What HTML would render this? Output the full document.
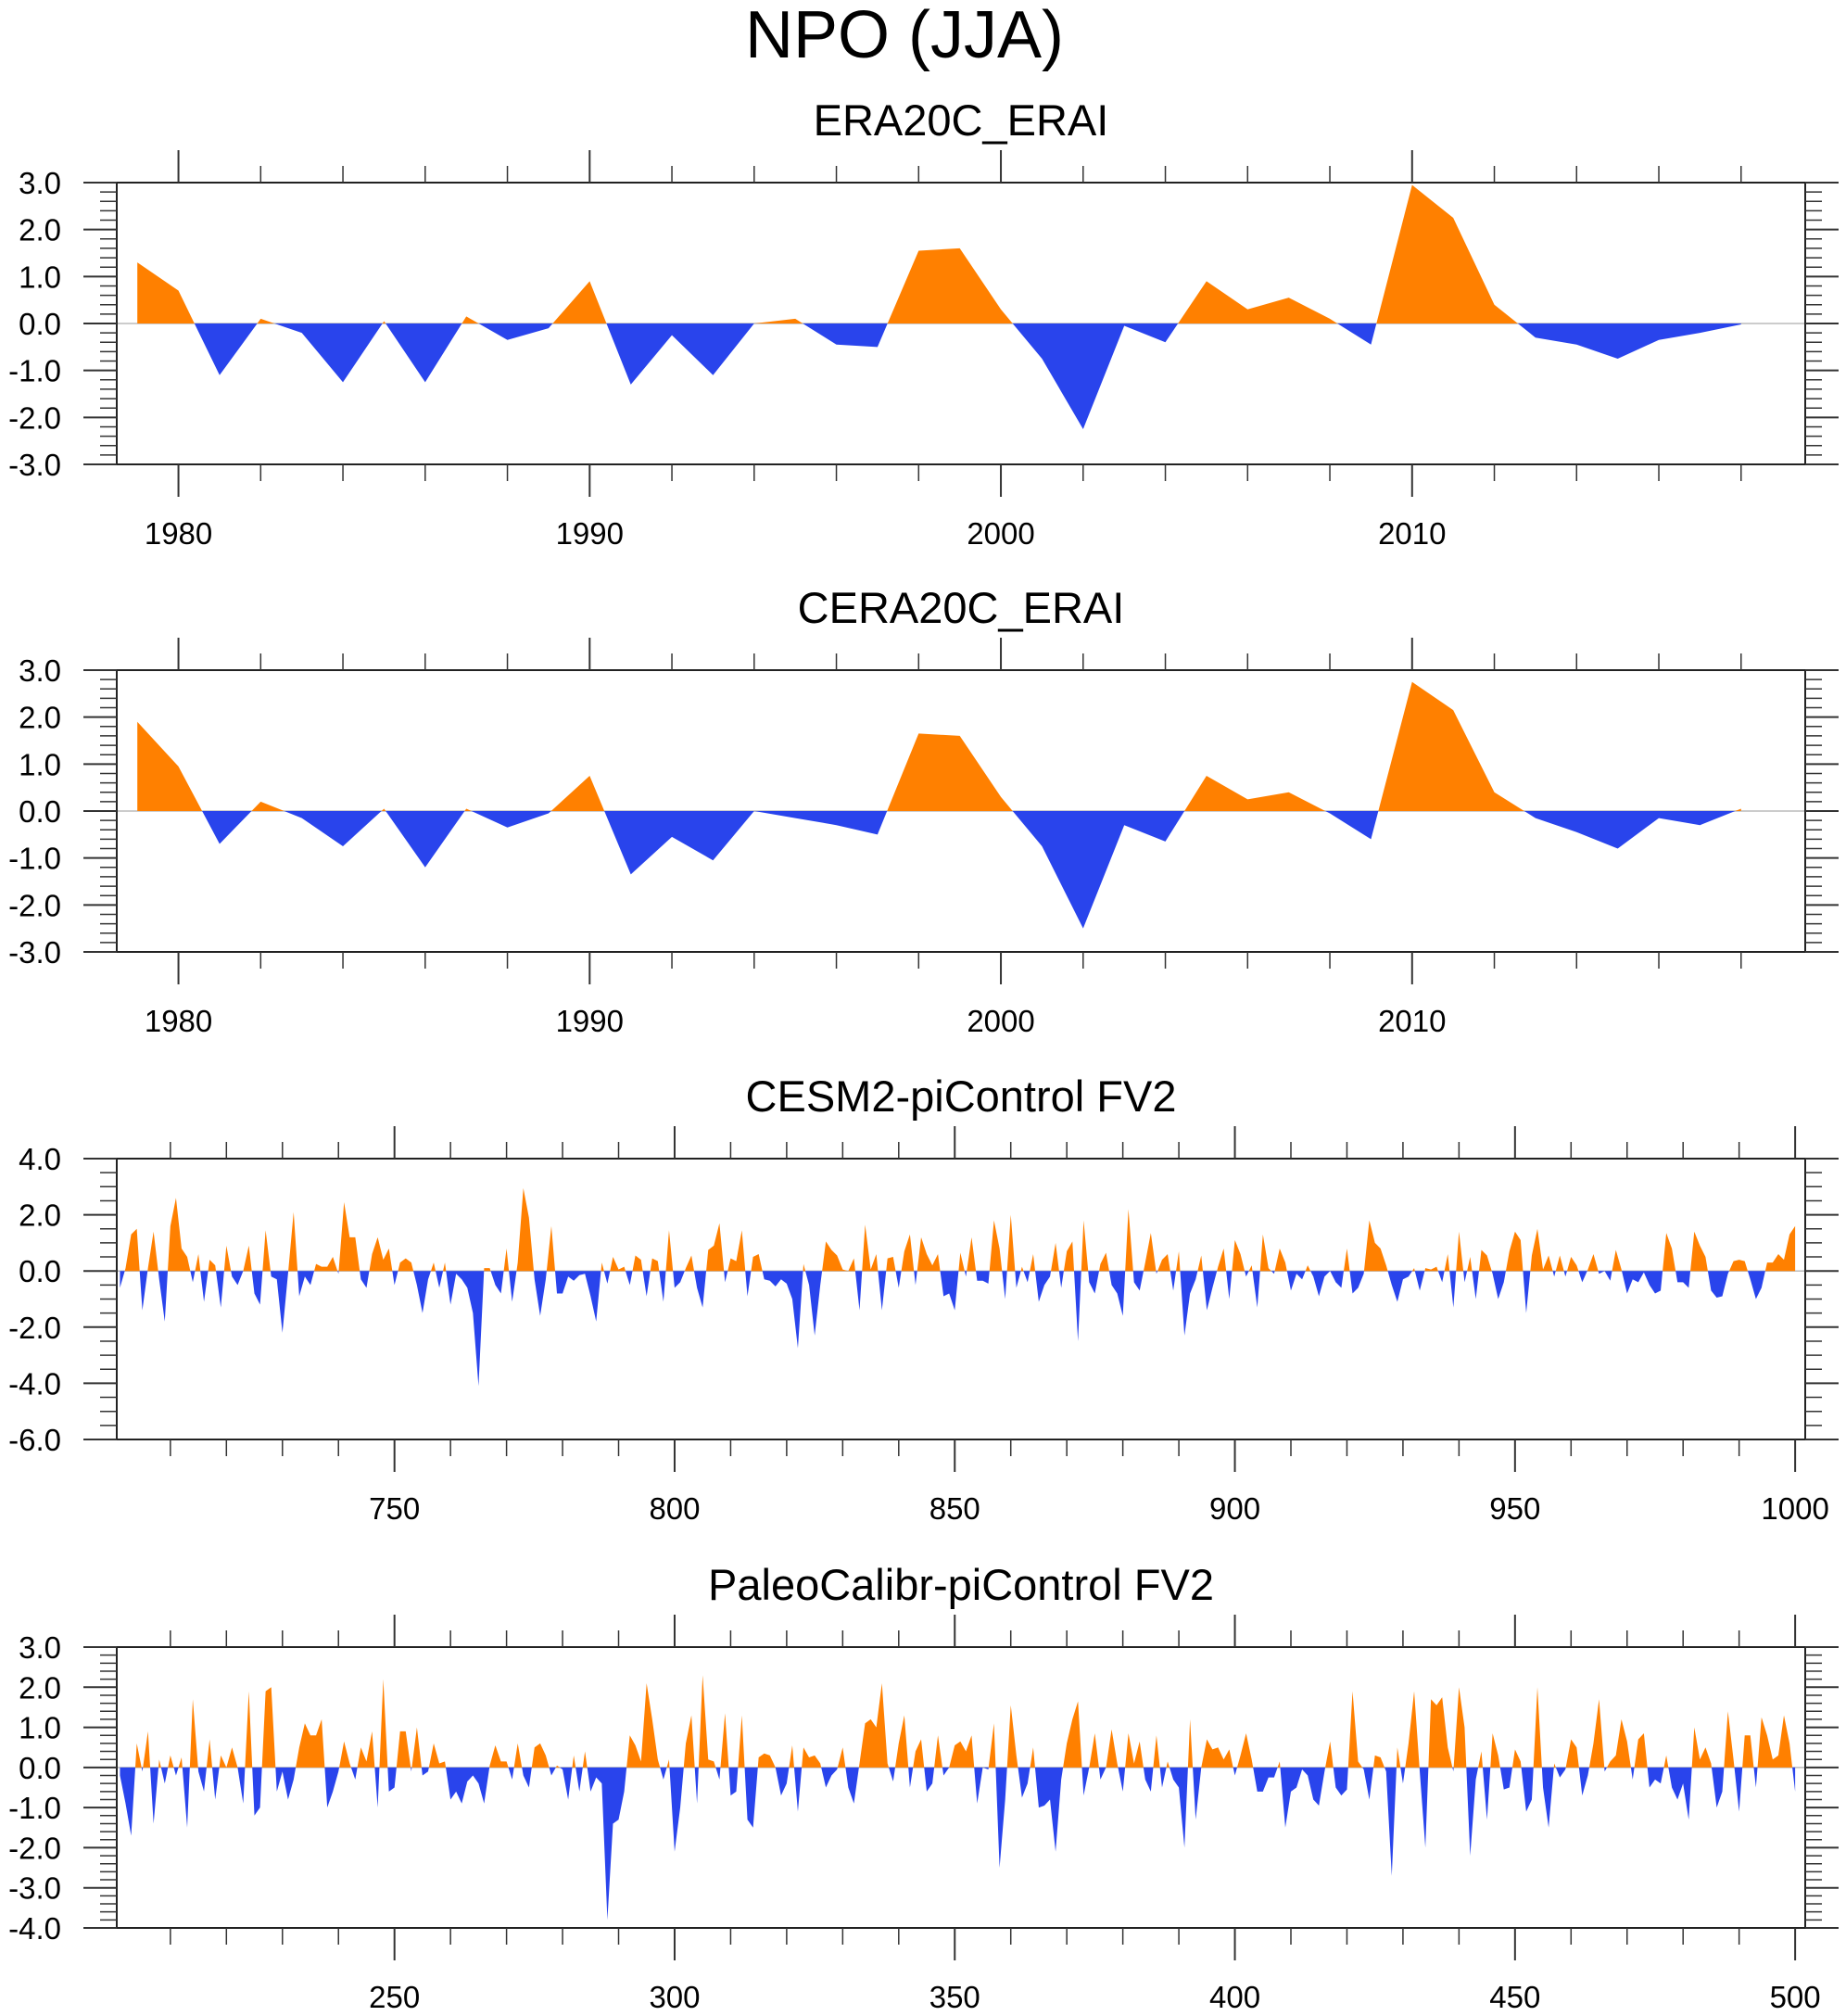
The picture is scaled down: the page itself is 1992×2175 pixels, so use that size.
<!DOCTYPE html>
<html><head><meta charset="utf-8"><style>
html,body{margin:0;padding:0;background:#fff;}
svg{display:block;font-family:"Liberation Sans",Arial,sans-serif;}
</style></head><body>
<svg id="chart" width="1992" height="2175" viewBox="0 0 1992 2175" xmlns="http://www.w3.org/2000/svg">
<text x="976" y="62" font-size="72" text-anchor="middle" fill="#000">NPO (JJA)</text>
</svg>
<script>
// Panel 1: ERA20C_ERAI, 1979-2018
const era20cYears0 = 1979;
const era20cValues = [1.3,0.7,-1.1,0.1,-0.2,-1.25,0.05,-1.25,0.15,-0.35,-0.1,0.9,-1.3,-0.25,-1.1,0.0,0.1,-0.45,-0.5,1.55,1.6,0.3,-0.75,-2.25,-0.05,-0.4,0.9,0.3,0.55,0.1,-0.45,2.95,2.25,0.4,-0.3,-0.45,-0.75,-0.35,-0.2,-0.02];
// Panel 2: CERA20C_ERAI
const cera20cValues = [1.9,0.95,-0.7,0.2,-0.15,-0.75,0.05,-1.2,0.05,-0.35,-0.05,0.75,-1.35,-0.55,-1.05,0.0,-0.15,-0.3,-0.5,1.65,1.6,0.3,-0.75,-2.5,-0.3,-0.65,0.75,0.25,0.4,-0.05,-0.6,2.75,2.15,0.4,-0.15,-0.45,-0.8,-0.15,-0.3,0.05];
// Panel 3: CESM2-piControl FV2, years 701..
const cesmValues = [
-0.6,0.1,1.3,1.5,-1.4,0.1,1.4,-0.3,-1.8,1.6,2.6,0.8,0.5,-0.4,0.6,-1.1,0.4,0.2,-1.3,0.9,-0.2,-0.5,0,0.9,-0.8,-1.2,1.45,-0.2,-0.3,-2.2,-0.1,2.1,-0.9,-0.2,-0.5,0.25,0.15,0.15,0.5,-0.1,2.45,1.2,1.2,-0.3,-0.6,0.6,1.2,0.4,0.8,-0.5,0.3,0.45,0.3,-0.5,-1.5,-0.3,0.3,-0.6,0.3,-1.2,-0.1,-0.3,-0.6,-1.5,-4.1,0.1,0.1,-0.5,-0.8,0.8,-1.1,0.3,2.95,1.9,-0.3,-1.6,-0.3,
1.6,-0.8,-0.8,-0.2,-0.35,-0.15,-0.1,-0.9,-1.8,0.3,-0.45,0.5,0.05,0.15,-0.5,0.55,0.4,-0.9,0.45,0.35,-1.1,1.45,-0.6,-0.4,0.1,0.55,-0.6,-1.3,0.75,0.9,1.7,-0.4,0.45,0.35,1.45,-0.9,0.5,0.6,-0.3,-0.35,-0.55,-0.3,-0.45,-1.0,-2.75,0.25,-0.5,-2.3,-0.5,1.05,0.75,0.55,0.05,0.0,0.45,-1.4,1.65,0.05,0.6,-1.4,0.45,0.5,-0.6,0.7,1.3,-0.5,1.2,0.6,0.2,0.6,-0.9,-0.8,-1.4,0.65,-0.2,1.2,
-0.35,-0.35,-0.45,1.8,0.8,-1.0,2.0,-0.6,0.15,-0.4,0.6,-1.1,-0.5,-0.2,1.0,-0.6,0.7,1.05,-2.5,1.8,-0.4,-0.8,0.25,0.65,-0.5,-0.8,-1.6,2.2,-0.4,-0.7,0.3,1.35,-0.1,0.4,0.6,-0.7,0.7,-2.3,-0.8,-0.3,0.55,-1.4,-0.6,0.15,0.8,-1.0,1.1,0.6,-0.2,0.2,-1.3,1.3,0.1,-0.1,0.8,0.3,-0.7,-0.1,-0.3,0.2,-0.2,-0.9,-0.2,0.0,-0.4,-0.6,0.8,-0.8,-0.6,-0.1,1.8,1.0,0.8,0.2,-0.5,-1.1,
-0.3,-0.2,0.1,-0.7,0.1,0.05,0.15,-0.4,0.6,-1.3,1.4,-0.4,0.5,-1.0,0.75,0.55,-0.1,-1.0,-0.4,0.7,1.4,1.1,-1.5,0.55,1.5,0.05,0.55,-0.2,0.55,-0.2,0.5,0.2,-0.4,0.05,0.6,-0.1,0.0,-0.35,0.75,0.05,-0.8,-0.3,-0.4,-0.05,-0.5,-0.8,-0.7,1.35,0.8,-0.4,-0.4,-0.6,1.4,0.9,0.5,-0.7,-0.95,-0.9,-0.1,0.35,0.4,0.35,-0.3,-1.0,-0.6,0.3,0.3,0.6,0.4,1.3,1.6];
// Panel 4: PaleoCalibr-piControl FV2, years 201..
const paleoValues = [
-0.2,-0.9,-1.7,0.6,-0.1,0.9,-1.4,0.2,-0.4,0.3,-0.2,0.25,-1.5,1.7,-0.1,-0.6,0.7,-0.8,0.3,0.0,0.5,0.0,-0.9,1.9,-1.2,-1.0,1.9,2.0,-0.6,-0.1,-0.8,-0.3,0.5,1.1,0.8,0.8,1.2,-1.0,-0.6,-0.1,0.65,0.1,-0.3,0.5,0.15,0.9,-1.0,2.2,-0.6,-0.5,0.9,0.9,-0.1,1.0,-0.2,-0.1,0.6,0.1,0.15,-0.8,-0.6,-0.9,-0.35,-0.2,-0.4,-0.9,0.05,0.55,0.15,0.15,-0.3,0.6,-0.2,-0.5,0.5,0.6,0.3,
-0.2,0.05,-0.05,-0.8,0.3,-0.6,0.4,-0.6,-0.25,-0.4,-3.8,-1.4,-1.3,-0.6,0.8,0.55,0.15,2.1,1.2,0.2,-0.3,0.2,-2.1,-1.0,0.6,1.3,-0.9,2.3,0.2,0.15,-0.3,1.35,-0.7,-0.6,1.3,-1.3,-1.5,0.25,0.35,0.3,0.0,-0.7,-0.4,0.55,-1.1,0.5,0.25,0.3,0.1,-0.5,-0.2,-0.05,0.5,-0.5,-0.9,0.1,1.1,1.2,1.0,2.1,0.1,-0.35,0.6,1.3,-0.5,0.4,0.7,-0.6,-0.4,0.8,-0.2,0.0,0.55,0.65,0.4,0.8,
-0.9,0.0,-0.05,1.1,-2.5,-0.8,1.55,0.3,-0.75,-0.4,0.5,-1.0,-0.95,-0.8,-2.1,-0.3,0.6,1.2,1.65,-0.7,0.0,0.85,-0.3,0.0,0.95,0.1,-0.6,0.85,0.1,0.65,-0.3,-0.6,0.8,-0.5,0.15,-0.3,-0.5,-2.0,1.2,-1.3,0.0,0.7,0.45,0.5,0.2,0.45,-0.2,0.3,0.85,0.2,-0.6,-0.6,-0.25,-0.25,0.15,-1.5,-0.6,-0.5,-0.05,-0.2,-0.8,-0.95,-0.1,0.65,-0.5,-0.7,-0.55,1.9,0.15,-0.05,-0.8,0.3,0.25,-0.1,-2.7,0.5,-0.4,
0.6,1.9,-0.1,-2.0,1.7,1.55,1.75,0.5,-0.1,2.0,1.0,-2.2,-0.3,0.4,-1.3,0.85,0.3,-0.55,-0.5,0.45,0.15,-1.1,-0.8,2.0,-0.5,-1.5,0.1,-0.25,-0.05,0.7,0.5,-0.7,-0.2,0.6,1.7,-0.1,0.15,0.3,1.2,0.65,-0.3,0.7,0.85,-0.5,-0.3,-0.4,0.3,-0.5,-0.8,-0.4,-1.3,1.0,0.2,0.5,0.1,-1.0,-0.6,1.4,0.2,-1.1,0.8,0.8,-0.5,1.25,0.8,0.2,0.3,1.3,0.6,-0.6];

const svg = document.getElementById('chart');
const NS = 'http://www.w3.org/2000/svg';
function mk(tag, attrs, parent) {
  const e = document.createElementNS(NS, tag);
  for (const k in attrs) e.setAttribute(k, attrs[k]);
  (parent || svg).appendChild(e);
  return e;
}

const panels = [
  {name:'era20c', title:'ERA20C_ERAI', values:era20cValues, x0:1979, top:197, bot:501, xmin:1978.5, xmax:2019.56, ymin:-3, ymax:3, ymaj:1, ymin2:0.2, xmaj:10, xminr:2, xlab:[1980,1990,2000,2010]},
  {name:'cera20c', title:'CERA20C_ERAI', values:cera20cValues, x0:1979, top:723, bot:1027, xmin:1978.5, xmax:2019.56, ymin:-3, ymax:3, ymaj:1, ymin2:0.2, xmaj:10, xminr:2, xlab:[1980,1990,2000,2010]},
  {name:'cesm2', title:'CESM2-piControl FV2', values:cesmValues, x0:701, top:1250, bot:1553, xmin:700.43, xmax:1001.8, ymin:-6, ymax:4, ymaj:2, ymin2:0.5, xmaj:50, xminr:10, xlab:[750,800,850,900,950,1000]},
  {name:'paleo', title:'PaleoCalibr-piControl FV2', values:paleoValues, x0:201, top:1777, bot:2080, xmin:200.43, xmax:501.8, ymin:-4, ymax:3, ymaj:1, ymin2:0.2, xmaj:50, xminr:10, xlab:[250,300,350,400,450,500]}
];
const L = 126, R = 1948;

panels.forEach(p => {
  const g = mk('g', {});
  
  
  const xs = v => L + (v - p.xmin) / (p.xmax - p.xmin) * (R - L);
  const ys = v => p.bot - (v - p.ymin) / (p.ymax - p.ymin) * (p.bot - p.top);
  const t = mk('text', {x:(L+R)/2, y:p.top-51, 'font-size':47, 'text-anchor':'middle', fill:'#000'}, g);
  t.textContent = p.title;
  
  
  const pts = [];
  p.values.forEach((v, i) => {
    const yr = p.x0 + i;
    if (i > 0) {
      const pv = p.values[i-1];
      if ((pv > 0 && v < 0) || (pv < 0 && v > 0)) {
        const f = pv / (pv - v);
        pts.push([yr - 1 + f, 0]);
      }
    }
    pts.push([yr, v]);
  });
  const y0 = ys(0);
  const first = xs(pts[0][0]), last = xs(pts[pts.length-1][0]);
  const polyStr = sign => {
    let s = first.toFixed(2) + ',' + y0.toFixed(2) + ' ';
    pts.forEach(q => {
      const v = sign > 0 ? Math.max(q[1], 0) : Math.min(q[1], 0);
      s += xs(q[0]).toFixed(2) + ',' + ys(v).toFixed(2) + ' ';
    });
    s += last.toFixed(2) + ',' + y0.toFixed(2);
    return s;
  };
  mk('line', {x1:L, x2:R, y1:y0, y2:y0, stroke:'#bbbbbb', 'stroke-width':1.5}, g);
  const pos = mk('polygon', {points:polyStr(1), fill:'#ff8000'}, g);
  
  
  const neg = mk('polygon', {points:polyStr(-1), fill:'#2944ec'}, g);
  
  
  const fr = mk('rect', {x:L, y:p.top, width:R-L, height:p.bot-p.top, fill:'none', stroke:'#222', 'stroke-width':2}, g);
  
  
  const ny = Math.round((p.ymax - p.ymin) / p.ymin2);
  for (let k = 0; k <= ny; k++) {
    const v = p.ymin + k * p.ymin2;
    const major = Math.abs(v / p.ymaj - Math.round(v / p.ymaj)) < 1e-6;
    const len = major ? 36 : 18;
    const y = ys(v);
    mk('line', {x1:L-len, x2:L, y1:y, y2:y, stroke:'#333', 'stroke-width':major?2:1.5}, g);
    mk('line', {x1:R, x2:R+len, y1:y, y2:y, stroke:'#333', 'stroke-width':major?2:1.5}, g);
    if (major) {
      const tl = mk('text', {x:66, y:y+12, 'font-size':33, 'text-anchor':'end', fill:'#000'}, g);
      tl.textContent = v.toFixed(1);
      
      
    }
  }
  const startT = Math.ceil(p.xmin / p.xminr) * p.xminr;
  for (let v = startT; v <= p.xmax; v += p.xminr) {
    const major = v % p.xmaj === 0;
    const len = major ? 35 : 18;
    const x = xs(v);
    mk('line', {x1:x, x2:x, y1:p.top-len, y2:p.top, stroke:'#333', 'stroke-width':major?2:1.5}, g);
    mk('line', {x1:x, x2:x, y1:p.bot, y2:p.bot+len, stroke:'#333', 'stroke-width':major?2:1.5}, g);
  }
  p.xlab.forEach(v => {
    const tl = mk('text', {x:xs(v), y:p.bot+86, 'font-size':33, 'text-anchor':'middle', fill:'#000'}, g);
    tl.textContent = String(v);
    
    
  });
});
</script>
</body></html>
